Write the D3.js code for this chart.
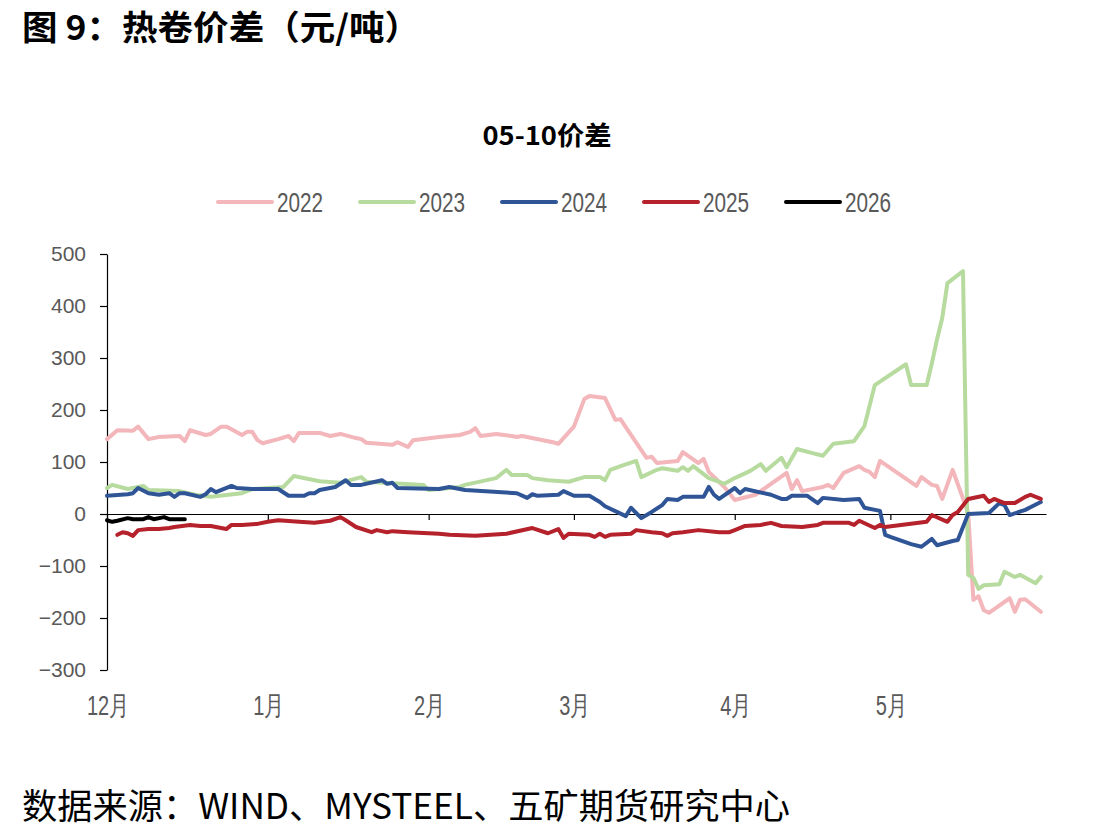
<!DOCTYPE html>
<html><head><meta charset="utf-8">
<script src="https://cdn.jsdelivr.net/npm/d3@7"></script>
<style>body{margin:0;background:#fff}</style>
</head><body><svg id="c" width="1119" height="838"></svg>
<script>
const s2022 = [["12-01",144],["12-03",161],["12-06",160],["12-07",168],["12-09",144],["12-11",148],["12-13",149],["12-15",150],["12-16",140],["12-17",161],["12-20",152],["12-21",154],["12-23",168],["12-24",168],["12-25",163],["12-27",152],["12-28",158],["12-29",158],["12-30",142],["12-31",136],["01-03",144],["01-05",150],["01-06",140],["01-07",156],["01-11",156],["01-13",150],["01-15",154],["01-18",146],["01-19",144],["01-20",137],["01-25",133],["01-26",138],["01-28",129],["01-29",142],["02-03",148],["02-07",152],["02-09",158],["02-10",165],["02-11",150],["02-14",154],["02-17",150],["02-18",148],["02-19",150],["02-24",140],["02-25",138],["02-26",135],["03-01",168],["03-03",221],["03-04",227],["03-07",223],["03-09",181],["03-10",182],["03-12",152],["03-15",108],["03-16",110],["03-17",98],["03-21",102],["03-22",119],["03-25",98],["03-26",106],["03-27",81],["03-30",52],["04-01",27],["04-05",37],["04-11",79],["04-12",48],["04-13",65],["04-14",44],["04-18",52],["04-19",56],["04-20",50],["04-22",79],["04-25",92],["04-26",85],["04-27",81],["04-28",71],["04-29",102],["05-06",54],["05-07",71],["05-09",56],["05-10",54],["05-11",29],["05-13",85],["05-16",2],["05-17",-165],["05-18",-158],["05-19",-185],["05-20",-190],["05-24",-162],["05-25",-188],["05-26",-165],["05-27",-164],["05-30",-188]];
const s2023 = [["12-01",50],["12-02",56],["12-05",48],["12-08",54],["12-09",46],["12-15",44],["12-18",37],["12-21",33],["12-27",40],["12-29",48],["01-04",52],["01-06",73],["01-11",63],["01-15",60],["01-19",71],["01-20",62],["01-31",56],["02-01",46],["02-03",48],["02-07",52],["02-08",56],["02-14",69],["02-16",85],["02-17",75],["02-20",75],["02-21",69],["02-24",65],["02-28",62],["03-03",71],["03-06",71],["03-07",65],["03-08",85],["03-10",92],["03-13",102],["03-14",71],["03-17",85],["03-18",88],["03-21",83],["03-22",90],["03-23",83],["03-24",92],["03-27",69],["03-29",62],["03-30",58],["04-01",69],["04-04",83],["04-06",96],["04-07",83],["04-10",108],["04-11",90],["04-13",125],["04-16",117],["04-18",112],["04-20",135],["04-24",140],["04-26",169],["04-28",248],["05-04",288],["05-05",248],["05-08",248],["05-09",290],["05-10",336],["05-11",377],["05-12",444],["05-15",467],["05-16",-117],["05-17",-123],["05-18",-144],["05-19",-137],["05-22",-135],["05-23",-111],["05-25",-121],["05-26",-117],["05-29",-133],["05-30",-121]];
const s2024 = [["12-01",35],["12-05",38],["12-06",40],["12-07",50],["12-09",40],["12-11",37],["12-13",40],["12-14",33],["12-15",40],["12-16",40],["12-19",33],["12-20",38],["12-21",48],["12-22",42],["12-25",54],["12-26",50],["12-29",48],["01-03",48],["01-05",35],["01-08",35],["01-09",40],["01-10",40],["01-11",46],["01-14",52],["01-16",65],["01-17",56],["01-19",56],["01-23",65],["01-24",58],["01-25",60],["01-26",50],["02-03",48],["02-05",52],["02-08",46],["02-18",40],["02-20",31],["02-21",38],["02-22",35],["02-26",37],["02-27",44],["03-01",35],["03-04",35],["03-06",23],["03-07",15],["03-11",-4],["03-12",12],["03-14",-8],["03-16",4],["03-18",17],["03-19",29],["03-21",27],["03-22",33],["03-26",33],["03-27",52],["03-28",37],["03-29",29],["04-01",50],["04-02",40],["04-03",48],["04-08",37],["04-10",29],["04-11",29],["04-12",35],["04-15",35],["04-17",21],["04-18",31],["04-22",27],["04-25",29],["04-26",12],["04-29",6],["04-30",-40],["05-01",-44],["05-05",-58],["05-07",-63],["05-09",-48],["05-10",-60],["05-13",-52],["05-14",-50],["05-16",0],["05-20",2],["05-22",21],["05-23",17],["05-24",-2],["05-27",8],["05-28",13],["05-30",23]];
const s2025 = [["12-03",-40],["12-04",-35],["12-05",-37],["12-06",-42],["12-07",-31],["12-09",-29],["12-11",-29],["12-13",-27],["12-14",-25],["12-17",-21],["12-19",-23],["12-21",-23],["12-24",-29],["12-25",-21],["12-27",-21],["12-30",-19],["01-01",-15],["01-03",-12],["01-07",-15],["01-10",-17],["01-13",-13],["01-15",-6],["01-16",-12],["01-18",-25],["01-21",-35],["01-22",-31],["01-24",-35],["01-25",-33],["01-28",-35],["02-03",-38],["02-05",-40],["02-10",-42],["02-16",-38],["02-21",-27],["02-24",-37],["02-26",-29],["02-27",-46],["02-28",-38],["03-04",-40],["03-05",-44],["03-06",-38],["03-07",-44],["03-08",-40],["03-12",-38],["03-13",-31],["03-16",-35],["03-18",-37],["03-19",-42],["03-20",-37],["03-22",-35],["03-25",-31],["03-29",-35],["03-31",-35],["04-01",-31],["04-03",-23],["04-06",-21],["04-08",-17],["04-10",-23],["04-14",-25],["04-17",-21],["04-18",-17],["04-23",-17],["04-24",-21],["04-25",-13],["04-28",-27],["04-29",-21],["04-30",-25],["05-08",-15],["05-09",-2],["05-12",-15],["05-13",-2],["05-14",4],["05-16",29],["05-19",35],["05-20",23],["05-21",29],["05-23",21],["05-25",21],["05-27",33],["05-28",37],["05-30",29]];
const s2026 = [["12-01",-12],["12-02",-15],["12-03",-13],["12-05",-8],["12-06",-10],["12-08",-10],["12-09",-6],["12-10",-10],["12-12",-6],["12-13",-10],["12-16",-10]];

const seriesNames = ["2022","2023","2024","2025","2026"];
const seriesData = [s2022, s2023, s2024, s2025, s2026];
const seriesColors = ["#F3B6BA","#B7DB9F","#2F5597","#B5222B","#000000"];
const yTicks = [-300,-200,-100,0,100,200,300,400,500];
const monthTicks = ["12-01","01-01","02-01","03-01","04-01","05-01"];
const monthLabels = ["12月","1月","2月","3月","4月","5月"];

function parse(s){const p=s.split("-").map(Number);return new Date(p[0]===12?2000:2001,p[0]-1,p[1]);}

const svg = d3.select("#c");
const x = d3.scaleTime().domain([parse("12-01"), parse("05-31")]).range([107,1046]);
const y = d3.scaleLinear().domain([-300,500]).range([670,254]);
const gray = "#595959";

// titles
svg.append("text").attr("x",22).attr("y",40).attr("font-family","Noto Sans CJK SC").attr("font-weight","bold")
  .attr("font-size",34).attr("fill","#000").attr("textLength",398).attr("lengthAdjust","spacingAndGlyphs")
  .text("图 9：热卷价差（元/吨）");
svg.append("text").attr("x",547).attr("y",145).attr("text-anchor","middle").attr("font-family","Noto Sans CJK SC")
  .attr("font-weight","bold").attr("font-size",26).attr("fill","#000").attr("textLength",129).attr("lengthAdjust","spacingAndGlyphs")
  .text("05-10价差");
svg.append("text").attr("x",22).attr("y",819).attr("font-family","Noto Sans CJK SC").attr("font-size",35)
  .attr("fill","#000").attr("textLength",768).attr("lengthAdjust","spacingAndGlyphs")
  .text("数据来源：WIND、MYSTEEL、五矿期货研究中心");

// y axis
const ya = svg.append("g").attr("transform","translate(107,0)")
  .call(d3.axisLeft(y).tickValues(yTicks).tickSize(7).tickSizeOuter(0).tickPadding(14)
  .tickFormat(d => d<0 ? "\u2212"+Math.abs(d) : String(d)));
ya.select(".domain").attr("stroke","#000").attr("stroke-width",1.2);
ya.selectAll(".tick line").attr("stroke","#000").attr("stroke-width",1.2);
ya.selectAll(".tick text").attr("font-family","Liberation Sans, Arial").attr("font-size",21).attr("fill",gray);

// x axis at zero
const xa = svg.append("g").attr("transform",`translate(0,${y(0)})`)
  .call(d3.axisBottom(x).tickValues(monthTicks.map(parse)).tickSize(6).tickSizeOuter(0).tickFormat(""));
xa.select(".domain").attr("stroke","#000").attr("stroke-width",1.2);
xa.selectAll(".tick line").attr("stroke","#000").attr("stroke-width",1.2);

// month labels at bottom
const squeeze = 0.74;
monthTicks.forEach((m,i) => {
  const t = svg.append("text").attr("x",x(parse(m))+1).attr("y",715).attr("text-anchor","middle")
    .attr("font-family","Liberation Sans, Arial").attr("font-size",27).attr("fill",gray).text(monthLabels[i]);
  const w = t.node().getComputedTextLength();
  t.attr("textLength",w*squeeze).attr("lengthAdjust","spacingAndGlyphs");
});

// lines
const line = d3.line().x(d => x(parse(d[0]))).y(d => y(d[1]));
seriesData.forEach((s,i) => {
  svg.append("path").datum(s).attr("d",line).attr("fill","none").attr("stroke",seriesColors[i])
    .attr("stroke-width",4).attr("stroke-linejoin","round").attr("stroke-linecap","round");
});

// legend
seriesNames.forEach((n,i) => {
  const x0 = 218 + i*142;
  svg.append("line").attr("x1",x0).attr("x2",x0+54).attr("y1",202).attr("y2",202)
    .attr("stroke",seriesColors[i]).attr("stroke-width",4).attr("stroke-linecap","round");
  const t = svg.append("text").attr("x",x0+59).attr("y",212).attr("font-family","Liberation Sans, Arial")
    .attr("font-size",28).attr("fill",gray).text(n);
  const w = t.node().getComputedTextLength();
  t.attr("textLength",w*squeeze).attr("lengthAdjust","spacingAndGlyphs");
});
</script></body></html>
